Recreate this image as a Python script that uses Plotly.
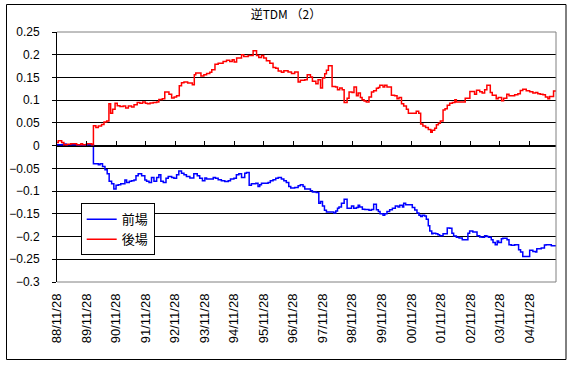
import plotly.graph_objects as go

# x positions: months elapsed since 88/11/28
tick_labels = ["88/11/28", "89/11/28", "90/11/28", "91/11/28", "92/11/28", "93/11/28",
               "94/11/28", "95/11/28", "96/11/28", "97/11/28", "98/11/28", "99/11/28",
               "00/11/28", "01/11/28", "02/11/28", "03/11/28", "04/11/28"]
tick_months = [0, 12, 24, 36, 48, 60, 72, 84, 96, 108, 120, 132, 144, 156, 168, 180, 192]

y_ticks = [0.25, 0.2, 0.15, 0.1, 0.05, 0, -0.05, -0.1, -0.15, -0.2, -0.25, -0.3]
y_text = ["0.25", "0.2", "0.15", "0.1", "0.05", "0", "\u22120.05", "\u22120.1",
          "\u22120.15", "\u22120.2", "\u22120.25", "\u22120.3"]

# 後場 (red)
red_t = [0, 0.5, 1.9, 2.8, 4.2, 5.6, 8.0, 9.7, 10.4, 12.0, 14.1, 14.8, 15.8, 16.8, 18.1,
         19.1, 20.2, 21.1, 21.8, 22.6, 23.6, 24.5, 25.6, 26.9, 27.9, 29.0, 30.3, 31.3,
         32.6, 33.7, 34.8, 35.9, 36.8, 37.8, 39.1, 40.5, 41.4, 42.8, 43.8, 45.5, 46.6,
         47.6, 48.6, 49.7, 50.6, 51.6, 53.1, 55.0, 55.8, 56.4, 58.5, 59.7, 60.8, 62.1,
         62.9, 64.2, 65.5, 67.5, 68.9, 70.2, 71.2, 72.0, 73.0, 75.0, 75.9, 77.7, 79.7,
         81.1, 82.0, 83.1, 84.0, 85.1, 86.5, 87.8, 88.9, 89.9, 91.2, 92.2, 93.9, 95.3,
         96.6, 98.0, 98.9, 100.7, 101.7, 103.0, 103.8, 105.2, 106.1, 107.1, 107.9, 108.8,
         109.5, 110.3, 111.8, 113.2, 114.0, 114.9, 115.9, 116.7, 117.9, 118.7, 119.9,
         120.7, 121.7, 122.4, 123.3, 124.0, 124.8, 125.7, 126.8, 127.8, 128.7, 129.8,
         130.6, 131.2, 132.5, 133.2, 134.1, 135.9, 137.2, 138.2, 139.0, 140.0, 140.9,
         142.0, 142.8, 146.0, 147.0, 147.8, 148.7, 149.8, 150.9, 151.9, 152.5, 153.5,
         154.2, 155.0, 155.8, 156.9, 157.7, 158.6, 159.6, 160.7, 161.7, 162.3, 165.9,
         167.8, 169.7, 170.5, 171.8, 172.8, 173.8, 174.7, 176.1, 176.9, 178.5, 179.3,
         180.7, 181.5, 182.8, 183.7, 186.0, 187.3, 188.3, 189.3, 190.7, 192.1, 193.4,
         194.5, 195.4, 196.4, 197.5, 198.5, 199.5, 200.2, 201.8, 202.8]
red_v = [0.0067, 0.011, 0.0067, 0.002, 0.0033, 0.0044, 0.002, 0.0044, 0.002, 0.0044, 0.002,
         0.0437, 0.040, 0.043, 0.0467, 0.052, 0.054, 0.092, 0.071, 0.080, 0.093, 0.088,
         0.086, 0.087, 0.083, 0.087, 0.085, 0.090, 0.095, 0.093, 0.096, 0.093, 0.092,
         0.094, 0.095, 0.096, 0.1015, 0.103, 0.118, 0.113, 0.105, 0.107, 0.110, 0.132,
         0.1385, 0.140, 0.138, 0.134, 0.156, 0.160, 0.153, 0.156, 0.1585, 0.1615, 0.167,
         0.179, 0.181, 0.185, 0.188, 0.185, 0.189, 0.184, 0.193, 0.200, 0.196, 0.1985,
         0.209, 0.1985, 0.194, 0.1985, 0.193, 0.187, 0.181, 0.172, 0.170, 0.164, 0.1615,
         0.1645, 0.162, 0.1585, 0.162, 0.140, 0.144, 0.145, 0.156, 0.151, 0.1415, 0.136,
         0.145, 0.127, 0.149, 0.158, 0.166, 0.176, 0.130, 0.129, 0.123, 0.127, 0.123,
         0.095, 0.104, 0.118, 0.117, 0.129, 0.110, 0.116, 0.106, 0.101, 0.098, 0.096,
         0.107, 0.118, 0.121, 0.126, 0.128, 0.133, 0.129, 0.133, 0.129, 0.111, 0.110,
         0.103, 0.106, 0.092, 0.087, 0.080, 0.071, 0.0756, 0.071, 0.0474, 0.043, 0.040,
         0.0356, 0.0296, 0.034, 0.0385, 0.046, 0.049, 0.054, 0.0785, 0.081, 0.089, 0.093,
         0.095, 0.101, 0.096, 0.104, 0.119, 0.113, 0.122, 0.1185, 0.116, 0.123, 0.133,
         0.117, 0.111, 0.103, 0.106, 0.099, 0.104, 0.113, 0.110, 0.112, 0.114, 0.1215,
         0.124, 0.121, 0.1185, 0.116, 0.117, 0.114, 0.113, 0.112, 0.107, 0.103, 0.108,
         0.120, 0.120]

# 前場 (blue)
blue_t = [0, 2.6, 3.7, 8.7, 12.0, 14.8, 16.8, 17.5, 18.5, 19.5, 20.4, 21.2, 22.2, 23.1,
          24.0, 24.9, 25.9, 27.6, 28.3, 29.4, 30.3, 31.3, 32.1, 33.0, 34.4, 35.7, 36.4,
          37.4, 38.4, 39.4, 40.5, 41.4, 42.2, 43.2, 44.3, 45.2, 46.6, 47.5, 48.6, 49.5,
          50.6, 51.6, 52.6, 54.0, 55.6, 57.0, 58.0, 59.1, 60.1, 60.8, 63.5, 64.4, 65.5,
          66.8, 68.2, 69.6, 70.5, 71.9, 72.9, 73.9, 75.0, 76.3, 77.0, 78.1, 79.0, 80.8,
          81.7, 82.4, 83.1, 85.8, 86.7, 87.8, 88.9, 89.9, 91.2, 92.2, 93.2, 94.2, 95.0,
          96.6, 98.0, 98.9, 100.0, 100.7, 103.0, 103.8, 105.4, 106.4, 107.1, 107.9, 108.7,
          109.5, 112.5, 113.3, 114.0, 114.6, 115.6, 116.7, 117.9, 119.7, 120.6, 121.7,
          122.4, 123.0, 124.1, 125.1, 126.8, 127.8, 128.7, 129.8, 130.6, 131.3, 132.5,
          133.2, 134.1, 135.2, 136.3, 137.5, 138.6, 139.3, 140.4, 140.9, 141.7, 144.4,
          145.4, 146.3, 147.1, 147.8, 148.5, 149.4, 150.1, 150.9, 151.5, 152.3, 152.8,
          153.9, 154.8, 155.5, 156.9, 158.6, 159.6, 160.5, 161.2, 162.3, 163.4, 164.7,
          167.0, 167.7, 169.0, 170.7, 171.8, 172.8, 173.8, 174.7, 175.4, 176.5, 177.2,
          178.1, 178.9, 179.5, 180.6, 181.2, 182.9, 183.7, 184.6, 186.0, 187.6, 188.4,
          189.3, 192.1, 193.4, 194.5, 195.0, 196.8, 198.1, 198.8, 200.9, 202.8]
blue_v = [0.002, 0.0035, 0.002, -0.0007, 0.002, -0.040, -0.042, -0.040, -0.046, -0.053,
          -0.062, -0.0785, -0.084, -0.0956, -0.087, -0.086, -0.084, -0.0756, -0.081,
          -0.0785, -0.077, -0.0756, -0.066, -0.062, -0.066, -0.0756, -0.0785, -0.081,
          -0.070, -0.0785, -0.070, -0.064, -0.0785, -0.081, -0.072, -0.068, -0.070,
          -0.072, -0.064, -0.0556, -0.061, -0.064, -0.068, -0.071, -0.062, -0.066,
          -0.072, -0.077, -0.071, -0.0733, -0.070, -0.072, -0.075, -0.077, -0.079,
          -0.077, -0.0733, -0.072, -0.064, -0.062, -0.070, -0.061, -0.059, -0.087,
          -0.084, -0.083, -0.090, -0.086, -0.083, -0.081, -0.077, -0.075, -0.072,
          -0.070, -0.0733, -0.077, -0.081, -0.090, -0.093, -0.092, -0.088, -0.086,
          -0.090, -0.0956, -0.099, -0.102, -0.103, -0.127, -0.123, -0.133, -0.142,
          -0.146, -0.148, -0.144, -0.138, -0.135, -0.127, -0.118, -0.138, -0.133,
          -0.138, -0.136, -0.131, -0.135, -0.140, -0.1407, -0.142, -0.1407, -0.129,
          -0.141, -0.145, -0.150, -0.153, -0.150, -0.145, -0.141, -0.138, -0.133,
          -0.135, -0.131, -0.135, -0.127, -0.130, -0.136, -0.1415, -0.148, -0.153,
          -0.156, -0.153, -0.155, -0.162, -0.176, -0.188, -0.194, -0.193, -0.194,
          -0.196, -0.198, -0.194, -0.181, -0.182, -0.193, -0.199, -0.2015, -0.203,
          -0.207, -0.193, -0.188, -0.190, -0.1985, -0.201, -0.2015, -0.198, -0.200,
          -0.2015, -0.207, -0.213, -0.218, -0.210, -0.213, -0.205, -0.204, -0.207,
          -0.218, -0.219, -0.218, -0.229, -0.234, -0.244, -0.230, -0.233, -0.234,
          -0.227, -0.225, -0.2185, -0.218, -0.220, -0.2215]

FONT = "Liberation Sans, Arial, Noto Sans CJK JP, sans-serif"
X_RANGE = [0, 202.8]
Y_RANGE = [-0.3, 0.25]
zero_pos = (0 - Y_RANGE[0]) / (Y_RANGE[1] - Y_RANGE[0])

fig = go.Figure()
fig.add_trace(go.Scatter(x=blue_t, y=blue_v, name="前場", mode="lines",
                         line=dict(color="#0000FF", width=1.5, shape="hv"),
                         xaxis="x", yaxis="y"))
fig.add_trace(go.Scatter(x=red_t, y=red_v, name="後場", mode="lines",
                         line=dict(color="#FF0000", width=1.5, shape="hv"),
                         xaxis="x2", yaxis="y"))

fig.update_layout(
    template="none",
    width=580, height=368,
    margin=dict(l=57, r=24, t=32, b=86, autoexpand=False),
    paper_bgcolor="white", plot_bgcolor="white",
    font=dict(family=FONT, size=12, color="black"),
    title=dict(text="逆TDM （2）", x=0.493, xref="container", xanchor="center",
               y=1 - 15 / 368, yref="container", yanchor="middle",
               font=dict(family="Noto Sans CJK JP, Liberation Sans, sans-serif", size=12)),
    showlegend=True,
    legend=dict(x=(80.7 - 57) / 499, y=(282 - 203.3) / 250, xanchor="left", yanchor="top",
                bgcolor="white", bordercolor="black", borderwidth=1,
                font=dict(family="Noto Sans CJK JP, sans-serif", size=13),
                tracegroupgap=0),
    # axis crossing at y = 0 with upward ticks
    xaxis=dict(range=X_RANGE, anchor="free", position=zero_pos, side="top",
               showline=True, linecolor="black", linewidth=1, automargin=False,
               ticks="outside", ticklen=5, tickcolor="black", tickwidth=1,
               tickvals=tick_months[1:], showticklabels=False,
               showgrid=False, zeroline=False, fixedrange=True),
    # labels at the bottom of the plot
    xaxis2=dict(range=X_RANGE, overlaying="x", matches="x", anchor="y", side="bottom",
                showline=False, ticks="", tickvals=tick_months, ticktext=tick_labels,
                tickangle=-90, tickfont=dict(size=13), ticklabelstandoff=8,
                showgrid=False, zeroline=False, automargin=False),
    yaxis=dict(range=Y_RANGE, tickvals=y_ticks, ticktext=y_text,
               showgrid=True, gridcolor="black", gridwidth=1,
               showline=True, linecolor="black", linewidth=1, automargin=False,
               ticks="outside", ticklen=4, tickcolor="black",
               ticklabelstandoff=10, zeroline=False, tickfont=dict(size=12)),
)

# plot-area border (gray) on top, right and bottom
for x0, y0, x1, y1 in [(0, 1, 1, 1), (1, 0, 1, 1), (0, 0, 1, 0)]:
    fig.add_shape(type="line", xref="paper", yref="paper", x0=x0, y0=y0, x1=x1, y1=y1,
                  line=dict(color="#808080", width=1))
# outer chart frame
fig.add_shape(type="rect", xref="paper", yref="paper",
              x0=(6.5 - 57) / 499, x1=(566 - 57) / 499,
              y0=(282 - 359.5) / 250, y1=(282 - 4.5) / 250,
              line=dict(color="black", width=1), fillcolor="rgba(0,0,0,0)")

fig.write_html("out.html", config={"displayModeBar": False},
               post_script="document.body.style.margin='0';")
